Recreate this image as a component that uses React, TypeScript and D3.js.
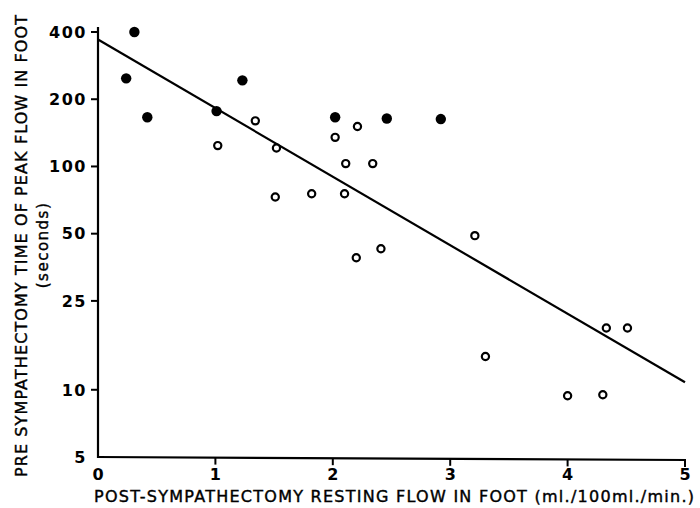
import React from "react";
import * as d3 from "d3";

const filledX = [0.31, 0.24, 0.42, 1.01, 1.23, 2.02, 2.46, 2.92];
const filledY = [400, 248, 166, 177, 243, 166, 164, 163];
const openX = [1.02, 1.34, 1.52, 1.51, 1.82, 2.1, 2.02, 2.11, 2.21, 2.34, 3.21, 2.41, 2.2, 4.33, 4.51, 3.3, 4.0, 4.3];
const openY = [124, 160, 121, 73, 75.5, 75.5, 135, 103, 151, 103, 49, 42.8, 39, 18.9, 18.9, 14.1, 9.4, 9.5];
const lineX = [0, 5];
const lineY = [370, 10.8];
const yTicks = [400, 200, 100, 50, 25, 10, 5];
const yTickLabels = ["400", "200", "100", "50", "25", "10", "5"];
const xTicks = [0, 1, 2, 3, 4, 5];
const xTickLabels = ["0", "1", "2", "3", "4", "5"];
const xTitle = "POST-SYMPATHECTOMY RESTING FLOW IN FOOT (ml./100ml./min.)";
const yTitle1 = "PRE SYMPATHECTOMY TIME OF PEAK FLOW IN FOOT";
const yTitle2 = "(seconds)";

const W = 700;
const H = 508;
const FONT = "'DejaVu Sans', sans-serif";

export default function App() {
  const x = d3.scaleLinear().domain([0, 5]).range([98, 685]);
  const y = d3.scaleLog().domain([5, 400]).range([457, 32]);
  const line = d3
    .line<number>()
    .x((_, i) => x(lineX[i]))
    .y((d) => y(d));
  const x0 = x(0);
  const yb = y(5);

  return (
    <svg
      width={W}
      height={H}
      style={{ position: "absolute", left: 0, top: 0, background: "#fff" }}
      fontFamily={FONT}
    >
      <rect width={W} height={H} fill="#fff" />
      {/* axes */}
      <line x1={x0} x2={x0} y1={27} y2={yb + 1} stroke="#000" strokeWidth={2.2} />
      <line x1={x0 - 1} x2={x(5) + 1} y1={yb} y2={yb + 3} stroke="#000" strokeWidth={2.2} />
      {yTicks.map((t, i) => (
        <g key={"yt" + i}>
          {t !== 5 && (
            <line x1={x0 - 7} x2={x0} y1={y(t)} y2={y(t)} stroke="#000" strokeWidth={2} />
          )}
          <text
            x={87}
            y={y(t)}
            dy="0.36em"
            textAnchor="end"
            fontSize={16}
            fontWeight="bold"
            letterSpacing={1.5}
          >
            {yTickLabels[i]}
          </text>
        </g>
      ))}
      {xTicks.map((t, i) => (
        <g key={"xt" + i}>
          {t !== 0 && (
            <line
              x1={x(t)}
              x2={x(t)}
              y1={yb + (t / 5) * 3}
              y2={yb + (t / 5) * 3 + 7}
              stroke="#000"
              strokeWidth={2}
            />
          )}
          <text x={x(t)} y={480} textAnchor="middle" fontSize={16} fontWeight="bold">
            {xTickLabels[i]}
          </text>
        </g>
      ))}
      {/* regression line */}
      <path d={line(lineY) || ""} fill="none" stroke="#000" strokeWidth={2.2} />
      {/* points */}
      {openX.map((v, i) => (
        <circle
          key={"o" + i}
          cx={x(v)}
          cy={y(openY[i])}
          r={3.6}
          fill="#fff"
          stroke="#000"
          strokeWidth={2.2}
        />
      ))}
      {filledX.map((v, i) => (
        <circle key={"f" + i} cx={x(v)} cy={y(filledY[i])} r={5.2} fill="#000" />
      ))}
      {/* titles */}
      <text
        x={94}
        y={502}
        fontSize={16}
        fontWeight="normal"
        stroke="#000"
        strokeWidth={0.4}
        textLength={600}
        lengthAdjust="spacing"
      >
        {xTitle}
      </text>
      <text
        transform="translate(27,477) rotate(-90)"
        x={0}
        y={0}
        fontSize={16}
        fontWeight="normal"
        stroke="#000"
        strokeWidth={0.4}
        textLength={462}
        lengthAdjust="spacing"
      >
        {yTitle1}
      </text>
      <text
        transform="translate(48,245) rotate(-90)"
        x={0}
        y={0}
        textAnchor="middle"
        fontSize={15}
        fontWeight="normal"
        stroke="#000"
        strokeWidth={0.4}
        letterSpacing={1.5}
      >
        {yTitle2}
      </text>
    </svg>
  );
}
